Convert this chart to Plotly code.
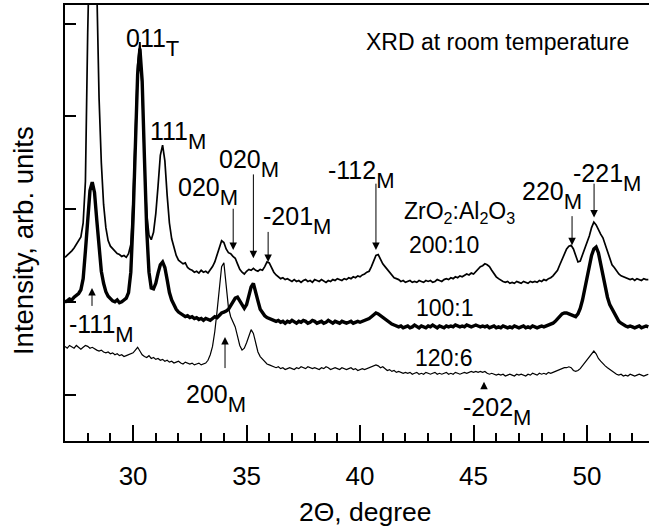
import plotly.graph_objects as go

# 2-theta scan grid (degrees)
two_theta = [
    27.0, 27.1, 27.2, 27.3, 27.4, 27.5, 27.6, 27.7, 27.8, 27.9,
    28.0, 28.1, 28.2, 28.3, 28.4, 28.5, 28.6, 28.7, 28.8, 28.9,
    29.0, 29.1, 29.2, 29.3, 29.4, 29.5, 29.6, 29.7, 29.8, 29.9,
    30.0, 30.1, 30.2, 30.3, 30.4, 30.5, 30.6, 30.7, 30.8, 30.9,
    31.0, 31.1, 31.2, 31.3, 31.4, 31.5, 31.6, 31.7, 31.8, 31.9,
    32.0, 32.1, 32.2, 32.3, 32.4, 32.5, 32.6, 32.7, 32.8, 32.9,
    33.0, 33.1, 33.2, 33.3, 33.4, 33.5, 33.6, 33.7, 33.8, 33.9,
    34.0, 34.1, 34.2, 34.3, 34.4, 34.5, 34.6, 34.7, 34.8, 34.9,
    35.0, 35.1, 35.2, 35.3, 35.4, 35.5, 35.6, 35.7, 35.8, 35.9,
    36.0, 36.1, 36.2, 36.3, 36.4, 36.5, 36.6, 36.7, 36.8, 36.9,
    37.0, 37.1, 37.2, 37.3, 37.4, 37.5, 37.6, 37.7, 37.8, 37.9,
    38.0, 38.1, 38.2, 38.3, 38.4, 38.5, 38.6, 38.7, 38.8, 38.9,
    39.0, 39.1, 39.2, 39.3, 39.4, 39.5, 39.6, 39.7, 39.8, 39.9,
    40.0, 40.1, 40.2, 40.3, 40.4, 40.5, 40.6, 40.7, 40.8, 40.9,
    41.0, 41.1, 41.2, 41.3, 41.4, 41.5, 41.6, 41.7, 41.8, 41.9,
    42.0, 42.1, 42.2, 42.3, 42.4, 42.5, 42.6, 42.7, 42.8, 42.9,
    43.0, 43.1, 43.2, 43.3, 43.4, 43.5, 43.6, 43.7, 43.8, 43.9,
    44.0, 44.1, 44.2, 44.3, 44.4, 44.5, 44.6, 44.7, 44.8, 44.9,
    45.0, 45.1, 45.2, 45.3, 45.4, 45.5, 45.6, 45.7, 45.8, 45.9,
    46.0, 46.1, 46.2, 46.3, 46.4, 46.5, 46.6, 46.7, 46.8, 46.9,
    47.0, 47.1, 47.2, 47.3, 47.4, 47.5, 47.6, 47.7, 47.8, 47.9,
    48.0, 48.1, 48.2, 48.3, 48.4, 48.5, 48.6, 48.7, 48.8, 48.9,
    49.0, 49.1, 49.2, 49.3, 49.4, 49.5, 49.6, 49.7, 49.8, 49.9,
    50.0, 50.1, 50.2, 50.3, 50.4, 50.5, 50.6, 50.7, 50.8, 50.9,
    51.0, 51.1, 51.2, 51.3, 51.4, 51.5, 51.6, 51.7, 51.8, 51.9,
    52.0, 52.1, 52.2, 52.3, 52.4, 52.5, 52.6, 52.7,
]

# ZrO2:Al2O3 = 200:10 (thin, upper)
intensity_200_10 = [
    2.48, 2.50, 2.52, 2.55, 2.58, 2.62, 2.65, 2.70, 2.85, 3.30,
    4.90, 6.50, 7.20, 6.60, 5.30, 4.20, 3.50, 3.05, 2.80, 2.66,
    2.60, 2.57, 2.55, 2.52, 2.51, 2.49, 2.50, 2.48, 2.52, 2.62,
    3.10, 3.85, 4.55, 4.80, 4.30, 3.50, 2.95, 2.72, 2.67, 2.75,
    2.95, 3.25, 3.58, 3.69, 3.52, 3.15, 2.85, 2.68, 2.58, 2.50,
    2.45, 2.43, 2.41, 2.42, 2.37, 2.35, 2.34, 2.32, 2.33, 2.31,
    2.34, 2.32, 2.33, 2.31, 2.34, 2.38, 2.43, 2.50, 2.58, 2.66,
    2.64, 2.57, 2.53, 2.52, 2.49, 2.47, 2.41, 2.35, 2.32, 2.30,
    2.33, 2.35, 2.34, 2.36, 2.34, 2.33, 2.35, 2.34, 2.38, 2.43,
    2.42, 2.37, 2.32, 2.29, 2.27, 2.25, 2.26, 2.24, 2.25, 2.23,
    2.22, 2.24, 2.22, 2.23, 2.21, 2.23, 2.24, 2.22, 2.23, 2.21,
    2.24, 2.23, 2.22, 2.24, 2.22, 2.21, 2.23, 2.22, 2.24, 2.23,
    2.25, 2.24, 2.23, 2.25, 2.24, 2.26, 2.25, 2.27, 2.26, 2.28,
    2.27, 2.29, 2.30, 2.32, 2.33, 2.38, 2.44, 2.50, 2.51, 2.46,
    2.41, 2.38, 2.35, 2.31, 2.28, 2.26, 2.25, 2.24, 2.22, 2.23,
    2.21, 2.22, 2.23, 2.21, 2.22, 2.21, 2.23, 2.22, 2.21, 2.23,
    2.22, 2.23, 2.21, 2.22, 2.24, 2.23, 2.22, 2.24, 2.25, 2.24,
    2.26, 2.25, 2.27, 2.26, 2.28, 2.27, 2.29, 2.30, 2.29, 2.31,
    2.30, 2.33, 2.35, 2.38, 2.39, 2.41, 2.40, 2.38, 2.34, 2.30,
    2.27, 2.25, 2.23, 2.22, 2.21, 2.22, 2.20, 2.21, 2.20, 2.22,
    2.21, 2.20, 2.22, 2.21, 2.20, 2.22, 2.21, 2.22, 2.21, 2.23,
    2.22, 2.24, 2.23, 2.25, 2.26, 2.28, 2.31, 2.34, 2.40, 2.46,
    2.52, 2.57, 2.60, 2.61, 2.57, 2.49, 2.43, 2.44, 2.51, 2.58,
    2.63, 2.71, 2.80, 2.86, 2.83, 2.77, 2.73, 2.69, 2.62, 2.54,
    2.46, 2.40, 2.37, 2.33, 2.30, 2.28, 2.27, 2.26, 2.25, 2.24,
    2.25, 2.23, 2.25, 2.24, 2.23, 2.25, 2.24, 2.24,
]

# ZrO2:Al2O3 = 100:1 (bold, middle)
intensity_100_1 = [
    2.00, 2.01, 2.03, 2.02, 2.05, 2.07, 2.09, 2.13, 2.25, 2.55,
    2.92, 3.20, 3.29, 3.18, 2.88, 2.55, 2.33, 2.20, 2.11, 2.06,
    2.03, 2.01, 2.00, 2.02, 1.99, 2.00, 2.02, 2.04, 2.10, 2.32,
    2.90, 3.70, 4.45, 4.73, 4.38, 3.55, 2.78, 2.32, 2.15, 2.14,
    2.20, 2.31, 2.40, 2.43, 2.37, 2.24, 2.10, 2.02, 1.96, 1.92,
    1.89, 1.87, 1.86, 1.84, 1.85, 1.83, 1.84, 1.82, 1.83, 1.81,
    1.82, 1.80, 1.82, 1.81, 1.80, 1.82, 1.84, 1.83, 1.86, 1.88,
    1.89, 1.90, 1.92, 1.96, 2.00, 2.04, 2.05, 2.01, 1.96, 1.93,
    1.97, 2.06, 2.16, 2.20, 2.12, 2.01, 1.92, 1.88, 1.85, 1.83,
    1.82, 1.81, 1.80, 1.79, 1.80, 1.78, 1.79, 1.77, 1.79, 1.78,
    1.80, 1.78, 1.77, 1.79, 1.78, 1.80, 1.79, 1.77, 1.78, 1.80,
    1.79, 1.77, 1.78, 1.79, 1.77, 1.78, 1.80, 1.78, 1.77, 1.79,
    1.78, 1.77, 1.79, 1.78, 1.77, 1.78, 1.79, 1.77, 1.78, 1.79,
    1.78, 1.79, 1.80, 1.81, 1.82, 1.84, 1.86, 1.88, 1.87, 1.85,
    1.84, 1.82, 1.80, 1.78, 1.76, 1.75, 1.74, 1.73, 1.74, 1.72,
    1.73, 1.74, 1.72, 1.73, 1.75, 1.73, 1.72, 1.74, 1.73, 1.72,
    1.74, 1.73, 1.75, 1.73, 1.72, 1.74, 1.73, 1.72, 1.74, 1.73,
    1.74, 1.73, 1.75, 1.74, 1.73, 1.74, 1.73, 1.75, 1.74, 1.73,
    1.74, 1.75, 1.74, 1.73, 1.74, 1.73, 1.74, 1.72, 1.73, 1.74,
    1.72, 1.73, 1.72, 1.74, 1.73, 1.72, 1.73, 1.72, 1.74, 1.73,
    1.72, 1.73, 1.74, 1.72, 1.73, 1.72, 1.74, 1.73, 1.72, 1.73,
    1.74, 1.73, 1.74, 1.75, 1.76, 1.77, 1.79, 1.82, 1.85, 1.87,
    1.88, 1.88, 1.87, 1.86, 1.85, 1.84, 1.87, 1.93, 2.02, 2.14,
    2.25, 2.38, 2.50, 2.57, 2.59, 2.53, 2.41, 2.27, 2.15, 2.05,
    1.97, 1.92, 1.87, 1.83, 1.79, 1.77, 1.75, 1.74, 1.73, 1.74,
    1.73, 1.72, 1.73, 1.74, 1.72, 1.73, 1.74, 1.73,
]

# ZrO2:Al2O3 = 120:6 (thin, lower)
intensity_120_6 = [
    1.52, 1.50, 1.53, 1.51, 1.50, 1.53, 1.51, 1.49, 1.51, 1.53,
    1.52, 1.50, 1.51, 1.49, 1.48, 1.47, 1.48, 1.46, 1.45, 1.46,
    1.44, 1.45, 1.43, 1.44, 1.42, 1.43, 1.41, 1.42, 1.43, 1.44,
    1.45, 1.48, 1.51, 1.47, 1.43, 1.41, 1.40, 1.42, 1.39, 1.40,
    1.38, 1.39, 1.37, 1.38, 1.36, 1.37, 1.35, 1.36, 1.34, 1.35,
    1.36, 1.34, 1.33, 1.35, 1.34, 1.33, 1.34, 1.32, 1.33, 1.34,
    1.32, 1.33, 1.34, 1.37, 1.43, 1.52, 1.68, 1.90, 2.16, 2.38,
    2.42, 2.18, 1.94, 1.84, 1.79, 1.73, 1.63, 1.53, 1.48, 1.50,
    1.56, 1.64, 1.70, 1.66, 1.55, 1.46, 1.41, 1.38, 1.35, 1.33,
    1.32, 1.31, 1.30, 1.29, 1.30, 1.28, 1.29, 1.27, 1.28, 1.29,
    1.28, 1.27, 1.29, 1.28, 1.30, 1.29, 1.28, 1.30, 1.29, 1.28,
    1.29, 1.28, 1.27, 1.29, 1.28, 1.30, 1.29, 1.27, 1.28, 1.29,
    1.28, 1.27, 1.29, 1.28, 1.27, 1.28, 1.29, 1.27, 1.28, 1.26,
    1.27, 1.28, 1.27, 1.28, 1.29, 1.30, 1.31, 1.32, 1.31, 1.29,
    1.30, 1.28, 1.26, 1.27, 1.25, 1.26, 1.24, 1.25, 1.24, 1.23,
    1.24, 1.23, 1.24, 1.22, 1.23, 1.24, 1.22, 1.23, 1.22, 1.24,
    1.23, 1.22, 1.23, 1.24, 1.22, 1.23, 1.22, 1.23, 1.24, 1.22,
    1.23, 1.22, 1.24, 1.23, 1.22, 1.23, 1.24, 1.23, 1.24, 1.25,
    1.24, 1.25, 1.24, 1.25, 1.24, 1.25, 1.23, 1.22, 1.23, 1.22,
    1.21, 1.22, 1.21, 1.22, 1.20, 1.21, 1.22, 1.21, 1.20, 1.22,
    1.21, 1.22, 1.21, 1.20, 1.22, 1.21, 1.23, 1.22, 1.21, 1.23,
    1.22, 1.23, 1.22, 1.24, 1.23, 1.24, 1.25, 1.26, 1.27, 1.28,
    1.29, 1.29, 1.30, 1.29, 1.26, 1.25, 1.26, 1.28, 1.31, 1.34,
    1.37, 1.40, 1.43, 1.47, 1.44, 1.39, 1.36, 1.33, 1.31, 1.29,
    1.27, 1.25, 1.24, 1.22, 1.21, 1.22, 1.20, 1.21, 1.20, 1.22,
    1.21, 1.20, 1.21, 1.22, 1.21, 1.20, 1.21, 1.22,
]

# x tick labels
x_tick_values = [30, 35, 40, 45, 50]
x_tick_labels = ["30", "35", "40", "45", "50"]

# Peak labels: Miller index and phase subscript (left edge x, box middle y)
peak_main = ["011", "111", "020", "020", "-201", "-112", "220", "-221", "-111", "200", "-202"]
peak_sub = ["T", "M", "M", "M", "M", "M", "M", "M", "M", "M", "M"]
peak_x = [29.64, 30.72, 33.74, 31.93, 35.68, 38.54, 47.09, 49.33, 27.13, 32.29, 44.49]
peak_y = [4.796, 3.791, 3.490, 3.189, 2.877, 3.371, 3.146, 3.339, 1.715, 0.963, 0.823]

# Arrows: x, tail y, tip y
arrow_x = [35.30, 34.41, 35.95, 40.70, 49.34, 50.31, 28.19, 34.05, 45.46]
arrow_tail_y = [3.39, 3.02, 2.77, 3.29, 2.94, 3.29, 1.94, 1.27, 1.05]
arrow_tip_y = [2.47, 2.56, 2.43, 2.56, 2.61, 2.91, 2.15, 1.62, 1.14]

sample_labels = ["200:10", "100:1", "120:6"]
sample_x = [42.11, 42.42, 42.37]
sample_y = [2.608, 1.930, 1.392]

FONT = "Liberation Sans, Arial, sans-serif"

fig = go.Figure()
fig.add_trace(go.Scatter(x=two_theta, y=intensity_200_10, mode="lines",
                         line=dict(color="black", width=1.7), name="200:10"))
fig.add_trace(go.Scatter(x=two_theta, y=intensity_100_1, mode="lines",
                         line=dict(color="black", width=3.4), name="100:1"))
fig.add_trace(go.Scatter(x=two_theta, y=intensity_120_6, mode="lines",
                         line=dict(color="black", width=1.2), name="120:6"))

annotations = []
for m, s, x, y in zip(peak_main, peak_sub, peak_x, peak_y):
    txt = m + "<sub><sub><span style='font-size:22px'>" + s + "</span></sub></sub>"
    annotations.append(dict(x=x, y=y, xref="x", yref="y", text=txt, showarrow=False,
                            xanchor="left", yanchor="middle", borderpad=0,
                            font=dict(family=FONT, size=25, color="black")))
for x, yt, yh in zip(arrow_x, arrow_tail_y, arrow_tip_y):
    annotations.append(dict(x=x, y=yh, ax=x, ay=yt, xref="x", yref="y", axref="x", ayref="y",
                            text="", showarrow=True, arrowhead=2, arrowsize=1.5,
                            arrowwidth=1, arrowcolor="black"))
for t, x, y in zip(sample_labels, sample_x, sample_y):
    annotations.append(dict(x=x, y=y, xref="x", yref="y", text=t, showarrow=False,
                            xanchor="left", yanchor="middle", borderpad=0,
                            font=dict(family=FONT, size=23, color="black")))
annotations.append(dict(x=41.89, y=2.962, xref="x", yref="y",
                        text="ZrO<sub>2</sub>:Al<sub>2</sub>O<sub>3</sub>", showarrow=False,
                        xanchor="left", yanchor="middle", borderpad=0,
                        font=dict(family=FONT, size=23, color="black")))
annotations.append(dict(x=40.22, y=4.806, xref="x", yref="y",
                        text="XRD at room temperature", showarrow=False,
                        xanchor="left", yanchor="middle", borderpad=0,
                        font=dict(family=FONT, size=23, color="black")))
# axis titles
annotations.append(dict(x=-0.0719, y=0.4587, xref="paper", yref="paper",
                        text="Intensity, arb. units", showarrow=False, textangle=-90,
                        xanchor="center", yanchor="middle",
                        font=dict(family=FONT, size=27.5, color="black")))
annotations.append(dict(x=0.5154, y=-0.1628, xref="paper", yref="paper",
                        text="2\u0398, degree", showarrow=False,
                        xanchor="center", yanchor="middle",
                        font=dict(family=FONT, size=26.5, color="black")))

fig.update_layout(
    width=649, height=531, autosize=False,
    margin=dict(l=65, r=0, t=5, b=90),
    paper_bgcolor="white", plot_bgcolor="white",
    showlegend=False,
    annotations=annotations,
    font=dict(family=FONT, size=24, color="black"),
)
fig.update_xaxes(range=[27.0, 52.73], showgrid=False, zeroline=False,
                 showline=True, linecolor="black", linewidth=2, mirror=True,
                 ticks="inside", ticklen=16, tickwidth=2, tickcolor="black",
                 tickvals=x_tick_values, ticktext=x_tick_labels,
                 tickfont=dict(family=FONT, size=26, color="black"),
                 ticklabelstandoff=11,
                 minor=dict(dtick=1, tick0=27, ticks="inside", ticklen=8,
                            tickwidth=2, tickcolor="black", showgrid=False))
fig.update_yaxes(range=[0.5, 5.2], showgrid=False, zeroline=False,
                 showline=True, linecolor="black", linewidth=2, mirror=False,
                 ticks="inside", ticklen=11, tickwidth=2, tickcolor="black",
                 tick0=1, dtick=1, showticklabels=False)

fig.write_html("out.html", config={"displayModeBar": False},
               post_script="document.body.style.margin='0';document.body.style.overflow='hidden';")
